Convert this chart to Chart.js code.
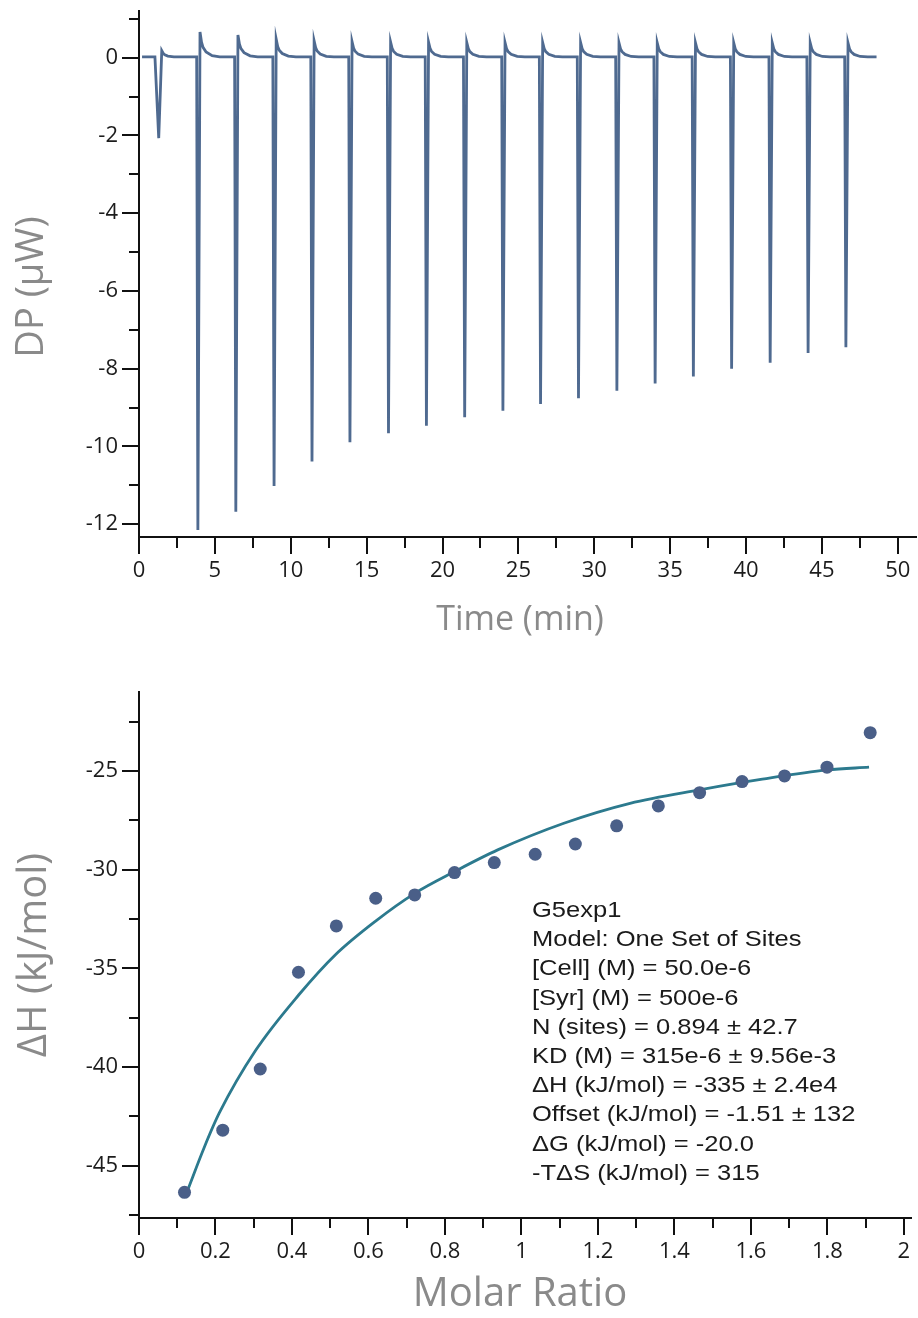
<!DOCTYPE html>
<html>
<head>
<meta charset="utf-8">
<script src="https://cdn.jsdelivr.net/npm/chart.js@4.4.1/dist/chart.umd.min.js"></script>
<style>
  html, body { margin: 0; padding: 0; background: #ffffff; }
  #wrap { position: relative; width: 918px; height: 1318px; }
  canvas { position: absolute; left: 0; }
</style>
</head>
<body>
<div id="wrap">
  <canvas id="dpChart" width="918" height="660" style="top:0px"></canvas>
  <canvas id="dhChart" width="918" height="658" style="top:660px"></canvas>
</div>
<script>
// ---------- Raw thermogram (DP vs time) ----------
// Start time of each injection (min)
const injTime = [1.05, 3.80, 6.30, 8.82, 11.32, 13.82, 16.36, 18.86, 21.38, 23.90,
                 26.38, 28.88, 31.41, 33.93, 36.45, 38.97, 41.51, 44.01, 46.50];
// Deepest DP reached by each injection (µW)
const injMin = [-2.07, -12.15, -11.68, -11.02, -10.39, -9.89, -9.66, -9.47, -9.25, -9.08,
                -8.91, -8.76, -8.57, -8.38, -8.20, -8.00, -7.85, -7.60, -7.45];
// Positive overshoot right after each peak (µW)
const injOver = [0.18, 0.66, 0.58, 0.48, 0.43, 0.41, 0.40, 0.40, 0.39, 0.39,
                 0.39, 0.39, 0.38, 0.38, 0.38, 0.38, 0.38, 0.38, 0.38];
// Time from injection start to the minimum (min)
const injDrop = [0.25, 0.08, 0.08, 0.08, 0.08, 0.08, 0.08, 0.08, 0.08, 0.08,
                 0.08, 0.08, 0.08, 0.08, 0.08, 0.08, 0.08, 0.08, 0.08];
// Relaxation of the overshoot back to baseline: time after overshoot (min) and remaining fraction
const tailDt   = [0.10, 0.20, 0.40, 0.80, 1.30];
const tailFrac = [0.60, 0.40, 0.22, 0.08, 0.03];
const dpBaseline = 0.02;
const dpStart = 0.2, dpEnd = 48.6;

// ---------- Integrated heats (ΔH vs molar ratio) ----------
const molarRatio = [0.119, 0.219, 0.317, 0.417, 0.516, 0.619, 0.721, 0.825, 0.929,
                    1.036, 1.141, 1.249, 1.358, 1.466, 1.577, 1.688, 1.799, 1.912];
const deltaH = [-46.35, -43.20, -40.10, -35.20, -32.85, -31.45, -31.28, -30.15, -29.64,
                -29.22, -28.70, -27.78, -26.77, -26.10, -25.54, -25.25, -24.81, -23.06];
// One-set-of-sites fit curve
const fitRatio = [0.128, 0.170, 0.210, 0.306, 0.418, 0.513, 0.617, 0.721, 0.825, 0.938,
                  1.111, 1.284, 1.466, 1.630, 1.800, 1.909];
const fitDH    = [-46.20, -44.10, -42.33, -39.13, -36.34, -34.32, -32.63, -31.20, -30.10, -29.00,
                  -27.65, -26.64, -25.96, -25.42, -24.95, -24.81];

// Fit summary
const fitSummary = [
  'G5exp1',
  'Model: One Set of Sites',
  '[Cell] (M) = 50.0e-6',
  '[Syr] (M) = 500e-6',
  'N (sites) = 0.894 \u00b1 42.7',
  'KD (M) = 315e-6 \u00b1 9.56e-3',
  '\u0394H (kJ/mol) = -335 \u00b1 2.4e4',
  'Offset (kJ/mol) = -1.51 \u00b1 132',
  '\u0394G (kJ/mol) = -20.0',
  '-T\u0394S (kJ/mol) = 315'
];

// Assemble the DP trace from the injection table
function buildTrace() {
  const pts = [{ x: dpStart, y: dpBaseline }];
  injTime.forEach((t, i) => {
    const tMin = t + injDrop[i];
    const tOver = tMin + (i === 0 ? 0.2 : 0.14);
    pts.push({ x: t, y: dpBaseline });
    pts.push({ x: tMin, y: injMin[i] });
    pts.push({ x: tOver, y: injOver[i] });
    tailDt.forEach((dt, k) => pts.push({ x: tOver + dt, y: Math.max(dpBaseline, injOver[i] * tailFrac[k]) }));
  });
  pts.push({ x: dpEnd, y: dpBaseline });
  return pts;
}

const TICK_FONT = { family: "'Open Sans', 'Noto Sans', sans-serif", size: 22 };
const TICK_COLOR = '#1c1c1c';
const TITLE_FAMILY = "'Open Sans', 'Noto Sans', sans-serif";
const TITLE_COLOR = '#8a8a8a';

// Outward tick marks: long for labelled values, short in between
const tickMarks = {
  id: 'tickMarks',
  afterDraw(chart, args, opts) {
    const ctx = chart.ctx;
    ctx.save();
    ctx.strokeStyle = '#111';
    ctx.lineWidth = 2;
    ['x', 'y'].forEach(id => {
      const s = chart.scales[id];
      const o = opts[id];
      s.ticks.forEach(t => {
        const major = Math.abs(t.value / o.major - Math.round(t.value / o.major)) < 1e-6;
        const len = major ? o.longLen : o.shortLen;
        const p = Math.round(s.getPixelForValue(t.value));
        ctx.beginPath();
        if (id === 'x') {
          ctx.moveTo(p, s.top); ctx.lineTo(p, s.top + len);
        } else {
          ctx.moveTo(s.right, p); ctx.lineTo(s.right - len, p);
        }
        ctx.stroke();
      });
    });
    ctx.restore();
  }
};

// Axis titles placed around the plot area
const axisTitles = {
  id: 'axisTitles',
  afterDraw(chart, args, opts) {
    const ctx = chart.ctx;
    ctx.save();
    ctx.fillStyle = TITLE_COLOR;
    ctx.textAlign = 'center';
    ctx.textBaseline = 'middle';
    ctx.font = opts.x.size + 'px ' + TITLE_FAMILY;
    ctx.fillText(opts.x.text, opts.x.cx, opts.x.cy);
    ctx.font = opts.y.size + 'px ' + TITLE_FAMILY;
    ctx.translate(opts.y.cx, opts.y.cy);
    ctx.rotate(-Math.PI / 2);
    ctx.fillText(opts.y.text, 0, 0);
    ctx.restore();
  }
};

// Fit summary block
const summaryBox = {
  id: 'summaryBox',
  afterDraw(chart, args, opts) {
    if (!opts.lines) return;
    const ctx = chart.ctx;
    ctx.save();
    ctx.font = opts.font;
    ctx.fillStyle = '#1a1a1a';
    ctx.textAlign = 'left';
    ctx.textBaseline = 'middle';
    opts.lines.forEach((line, i) => {
      ctx.save();
      ctx.translate(opts.left, opts.top + i * opts.step);
      ctx.scale(opts.stretch, 1);
      ctx.fillText(line, 0, 0);
      ctx.restore();
    });
    ctx.restore();
  }
};

function majorLabel(step) {
  return v => {
    const r = Math.round(v / step);
    return Math.abs(v / step - r) < 1e-6 ? String(+(r * step).toFixed(3)) : '';
  };
}

function axisCommon(min, max, stepSize, labelStep) {
  return {
    type: 'linear',
    min, max,
    border: { display: true, color: '#111', width: 2 },
    grid: { display: true, drawOnChartArea: false, drawTicks: true, tickLength: 17, tickColor: 'rgba(0,0,0,0)' },
    ticks: {
      stepSize, includeBounds: false, autoSkip: false, maxRotation: 0,
      font: TICK_FONT, color: TICK_COLOR, padding: 4,
      callback: majorLabel(labelStep)
    }
  };
}

// Fixed axis band sizes so the plot area sits at a set place on the canvas
function fixWidth(w) {
  return s => { s.width = w; s.paddingTop = 0; s.paddingBottom = 0; };
}
function fixHeight(h) {
  return s => { s.height = h; };
}

Chart.defaults.animation = false;
Chart.defaults.devicePixelRatio = 1;

// ---------- Top: raw DP trace ----------
const dpX = axisCommon(0, 51.2, 2.5, 5);
dpX.afterFit = fixHeight(123);
const dpY = axisCommon(-12.33, 1.2, 1, 2);
dpY.afterFit = fixWidth(139);

new Chart(document.getElementById('dpChart'), {
  type: 'line',
  data: {
    datasets: [{
      data: buildTrace(),
      borderColor: '#4f6a90',
      borderWidth: 2.8,
      pointRadius: 0,
      tension: 0,
      fill: false
    }]
  },
  options: {
    responsive: false,
    layout: { padding: { top: 11, right: 2, left: 0, bottom: 0 } },
    scales: { x: dpX, y: dpY },
    plugins: {
      legend: { display: false },
      tooltip: { enabled: false },
      tickMarks: { x: { major: 5, longLen: 17, shortLen: 11 }, y: { major: 2, longLen: 17, shortLen: 10 } },
      axisTitles: {
        x: { text: 'Time (min)', cx: 520, cy: 620, size: 34 },
        y: { text: 'DP (\u00b5W)', cx: 32, cy: 287, size: 38 }
      }
    }
  },
  plugins: [tickMarks, axisTitles]
});

// ---------- Bottom: integrated heats with fit ----------
const dhX = axisCommon(0, 2.02, 0.1, 0.2);
dhX.afterFit = fixHeight(100);
const dhY = axisCommon(-47.65, -21, 2.5, 5);
dhY.afterFit = fixWidth(139);

new Chart(document.getElementById('dhChart'), {
  type: 'scatter',
  data: {
    datasets: [
      {
        type: 'line',
        data: fitRatio.map((x, i) => ({ x, y: fitDH[i] })),
        borderColor: '#2c7a8e',
        borderWidth: 2.8,
        pointRadius: 0,
        cubicInterpolationMode: 'monotone',
        fill: false,
        order: 2
      },
      {
        data: molarRatio.map((x, i) => ({ x, y: deltaH[i] })),
        backgroundColor: '#4a5f88',
        borderWidth: 0,
        pointRadius: 6.5,
        order: 1
      }
    ]
  },
  options: {
    responsive: false,
    layout: { padding: { top: 32, right: 2, left: 0, bottom: 0 } },
    scales: { x: dhX, y: dhY },
    plugins: {
      legend: { display: false },
      tooltip: { enabled: false },
      tickMarks: { x: { major: 0.2, longLen: 17, shortLen: 10 }, y: { major: 5, longLen: 17, shortLen: 10 } },
      axisTitles: {
        x: { text: 'Molar Ratio', cx: 520, cy: 635, size: 40 },
        y: { text: '\u0394H (kJ/mol)', cx: 35, cy: 295, size: 40 }
      },
      summaryBox: {
        lines: fitSummary,
        font: "22px 'Liberation Sans', Arial, sans-serif",
        left: 532, top: 251, step: 29.2, stretch: 1.16
      }
    }
  },
  plugins: [tickMarks, axisTitles, summaryBox]
});
</script>
</body>
</html>
